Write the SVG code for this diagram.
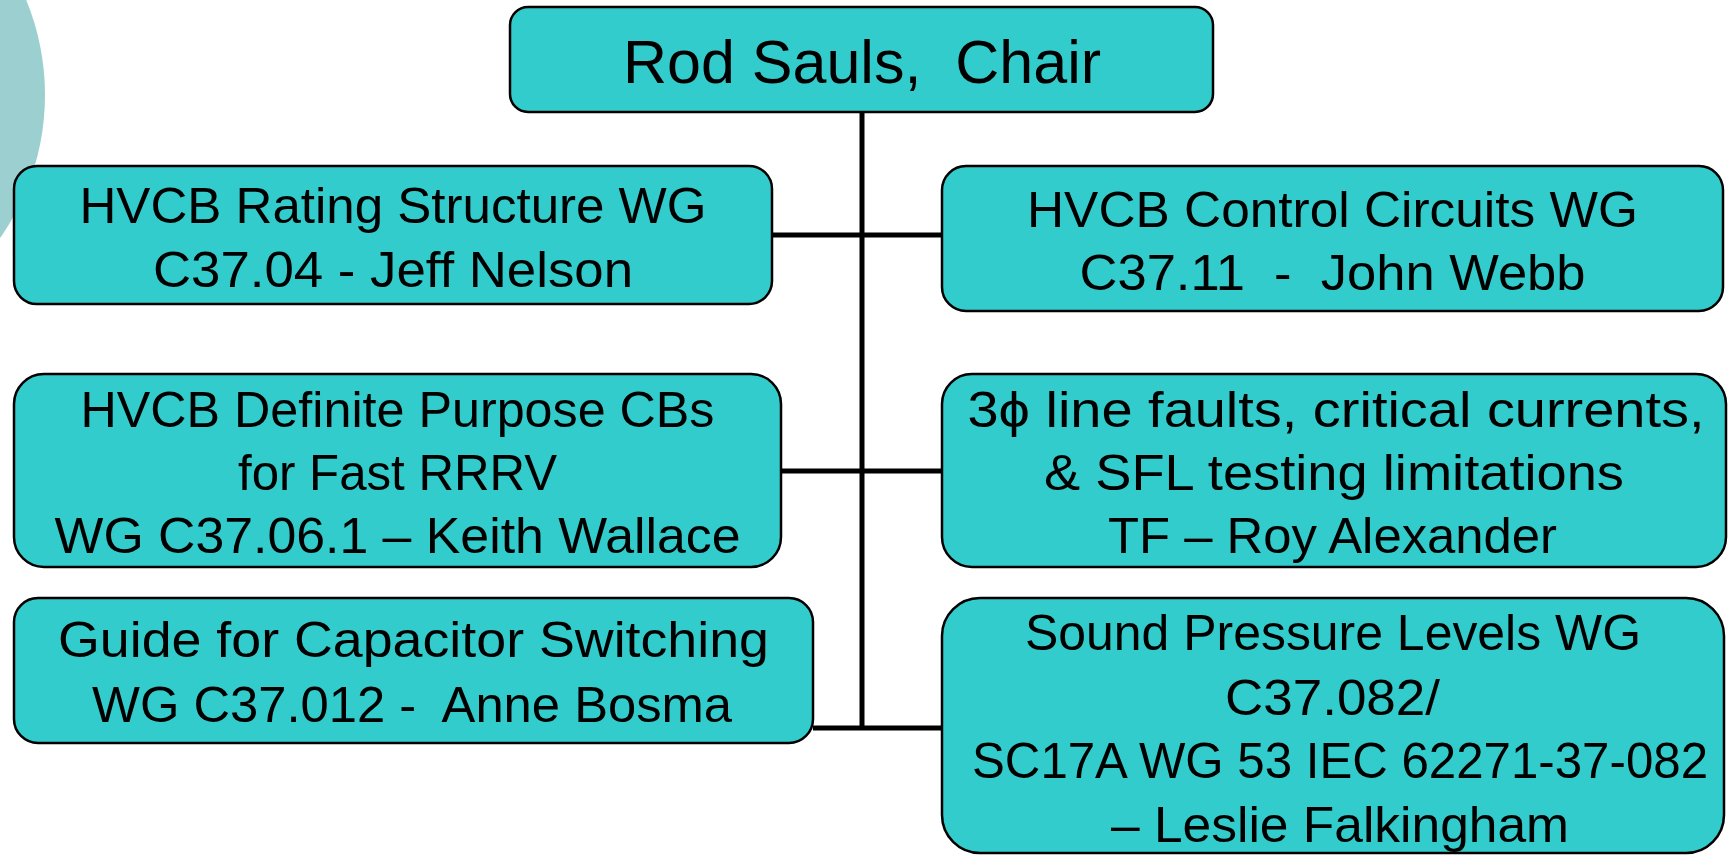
<svg xmlns="http://www.w3.org/2000/svg" width="1735" height="855" viewBox="0 0 1735 855">
<style>
.box{fill:#33CCCC;stroke:#000;stroke-width:2.5}
.t{font-family:"Liberation Sans",Arial,sans-serif;font-size:50px;fill:#000;text-anchor:middle;white-space:pre}
.conn{stroke:#000;stroke-width:5;fill:none}
</style>
<circle cx="-205" cy="95" r="250" fill="#9CCFCF"/>
<g id="connectors">
<line class="conn" x1="862" y1="112" x2="862" y2="730"/>
<line class="conn" x1="772" y1="235" x2="942" y2="235"/>
<line class="conn" x1="781" y1="471" x2="942" y2="471"/>
<line class="conn" x1="813" y1="728" x2="942" y2="728"/>
</g>
<g id="chair">
<rect class="box" x="510" y="7" width="703" height="105" rx="18"/>
<text class="t" x="862" y="83" style="font-size:61px" textLength="478" lengthAdjust="spacingAndGlyphs">Rod Sauls,  Chair</text>
</g>
<g id="rating">
<rect class="box" x="14" y="166" width="758" height="138" rx="23"/>
<text class="t" x="393" y="223" textLength="627" lengthAdjust="spacingAndGlyphs">HVCB Rating Structure WG</text>
<text class="t" x="393" y="287" textLength="480" lengthAdjust="spacingAndGlyphs">C37.04 - Jeff Nelson</text>
</g>
<g id="control">
<rect class="box" x="942" y="166" width="781" height="145" rx="24"/>
<text class="t" x="1332.5" y="227" textLength="611" lengthAdjust="spacingAndGlyphs">HVCB Control Circuits WG</text>
<text class="t" x="1332.5" y="290" textLength="506" lengthAdjust="spacingAndGlyphs">C37.11  -  John Webb</text>
</g>
<g id="definite">
<rect class="box" x="14" y="374" width="767" height="193" rx="30"/>
<text class="t" x="397.5" y="427" textLength="634" lengthAdjust="spacingAndGlyphs">HVCB Definite Purpose CBs</text>
<text class="t" x="397.5" y="490" textLength="319" lengthAdjust="spacingAndGlyphs">for Fast RRRV</text>
<text class="t" x="397.5" y="553" textLength="686" lengthAdjust="spacingAndGlyphs">WG C37.06.1 – Keith Wallace</text>
</g>
<g id="faults">
<rect class="box" x="942" y="374" width="784" height="193" rx="30"/>
<text class="t" x="1336" y="427" textLength="737" lengthAdjust="spacingAndGlyphs">3ϕ line faults, critical currents,</text>
<text class="t" x="1334" y="490" textLength="580" lengthAdjust="spacingAndGlyphs">&amp; SFL testing limitations</text>
<text class="t" x="1332.5" y="553" textLength="449" lengthAdjust="spacingAndGlyphs">TF – Roy Alexander</text>
</g>
<g id="capacitor">
<rect class="box" x="14" y="598" width="799" height="145" rx="24"/>
<text class="t" x="413.5" y="657" textLength="711" lengthAdjust="spacingAndGlyphs">Guide for Capacitor Switching</text>
<text class="t" x="412" y="722" textLength="640" lengthAdjust="spacingAndGlyphs">WG C37.012 -  Anne Bosma</text>
</g>
<g id="sound">
<rect class="box" x="942" y="598" width="782" height="255" rx="38"/>
<text class="t" x="1333" y="650" textLength="616" lengthAdjust="spacingAndGlyphs">Sound Pressure Levels WG</text>
<text class="t" x="1332.5" y="715" textLength="215" lengthAdjust="spacingAndGlyphs">C37.082/</text>
<text class="t" x="1340" y="778" textLength="736" lengthAdjust="spacingAndGlyphs">SC17A WG 53 IEC 62271-37-082</text>
<text class="t" x="1340" y="842" textLength="458" lengthAdjust="spacingAndGlyphs">– Leslie Falkingham</text>
</g>
</svg>
